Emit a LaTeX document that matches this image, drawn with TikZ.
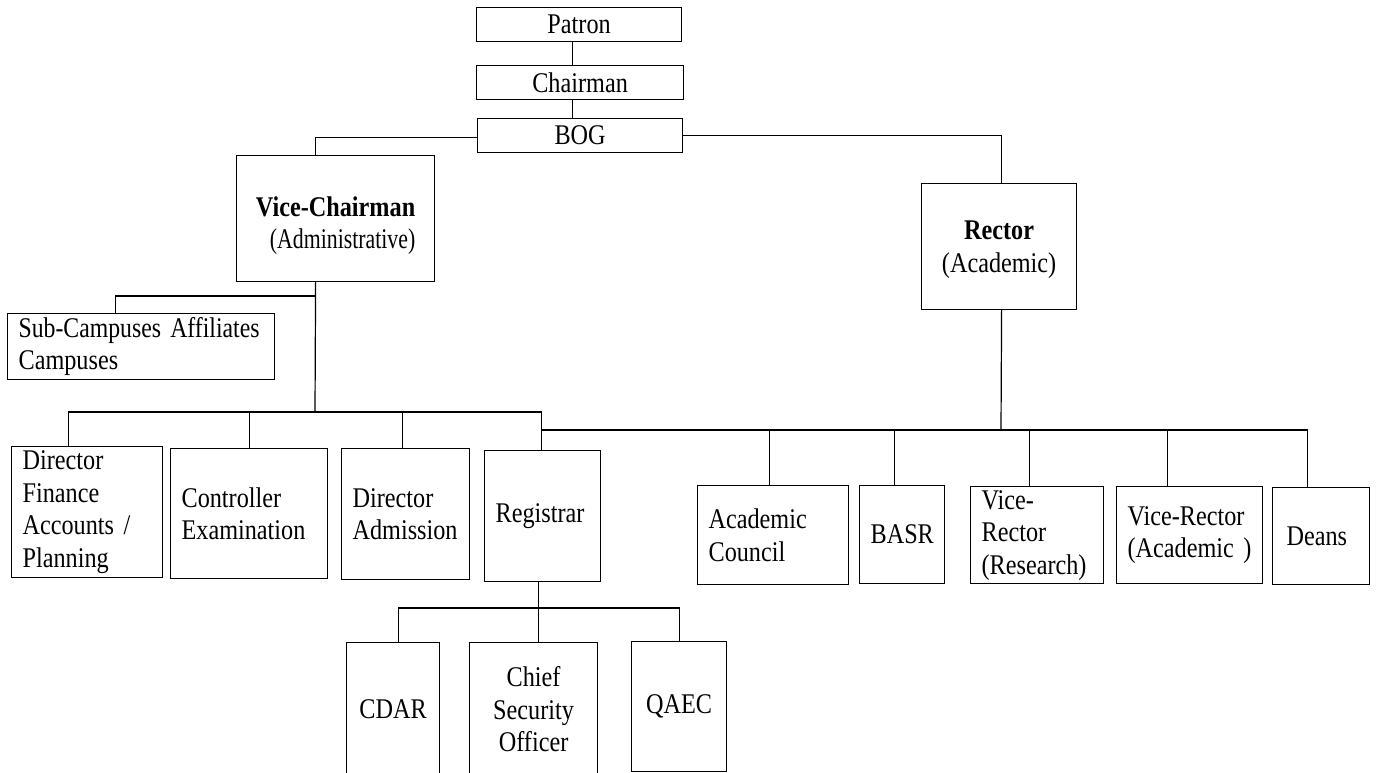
\documentclass[tikz,border=0pt]{standalone}
\usepackage{fontspec}
\setmainfont{Liberation Serif}[FakeStretch=0.85]
\begin{document}
\begin{tikzpicture}[x=1pt,y=-1pt,
  box/.style={draw, line width=1.2pt, rectangle, inner ysep=0pt, inner xsep=11pt, anchor=north west, font=\fontsize{28.5}{32.5}\selectfont},
  lbox/.style={box, align=left},
  cbox/.style={box, align=center},
  txt/.style={inner sep=0pt, align=center, font=\fontsize{28.5}{32.5}\selectfont},
  link/.style={line width=1.2pt}]
\useasboundingbox (0,0) rectangle (1382,772);
\fill[white] (0,0) rectangle (1382,772);
% top chain
\node[cbox, minimum width=205pt, minimum height=34pt] (patron) at (476,7) {Patron};
\node[cbox, minimum width=207pt, minimum height=34pt] (chair) at (476,65) {Chairman};
\node[cbox, minimum width=205pt, minimum height=34pt] (bog) at (477,118) {BOG};
\node[cbox, minimum width=198pt, minimum height=126pt] (vc) at (236,155) {};
\node[txt] (vctext) at ([yshift=-7pt]vc.center) {\textbf{Vice-Chairman}\\\hspace*{14pt}\scalebox{0.9}[1]{(Administrative)}};
\node[cbox, minimum width=155pt, minimum height=126pt] (rector) at (921,183) {};
\node[txt] (rectortext) at ([yshift=-3pt]rector.center) {\textbf{Rector}\\(Academic)};
% administrative side
\node[lbox, text width=245pt, minimum height=66pt] (sub) at (7,313) {\mbox{\scalebox{0.98}[1]{Sub-Campuses Affiliates}}\\Campuses};
\node[lbox, text width=129pt, minimum height=131pt] (dfin) at (11,446) {Director\\Finance\\Accounts /\\Planning};
\node[lbox, text width=135pt, minimum height=130pt] (ctrl) at (170,448) {Controller\\Examination};
\node[lbox, text width=106pt, minimum height=131pt] (dadm) at (341,448) {Director\\Admission};
\node[lbox, text width=94pt, minimum height=131pt] (reg) at (484,450) {Registrar};
% academic side
\node[lbox, text width=129pt, minimum height=99pt] (acc) at (697,485) {Academic\\Council};
\node[lbox, text width=63pt, minimum height=98pt] (basr) at (859,485) {BASR};
\node[lbox, text width=111pt, minimum height=97pt] (vrr) at (970,486) {Vice-\\Rector\\(Research)};
\node[lbox, text width=124pt, minimum height=97pt] (vra) at (1116,486) {Vice-Rector\\(Academic )};
\node[lbox, inner xsep=14pt, text width=69pt, minimum height=97pt] (deans) at (1272,487) {Deans};
% registrar children
\node[cbox, minimum width=93pt, minimum height=133pt] (cdar) at (346,642) {CDAR};
\node[cbox, minimum width=128pt, minimum height=133pt] (chief) at (469,642) {Chief\\Security\\Officer};
\node[cbox, minimum width=95pt, minimum height=130pt] (qaec) at (631,641) {QAEC};
% junctions
\coordinate (subj) at (315,296);
\coordinate (adminbus) at (315,412);
\coordinate (acadbus) at (1001,430);
\coordinate (regbus) at (538,608);
% connectors
\draw[link] ([xshift=-7pt]patron.south) -- ([xshift=-7pt]patron.south |- chair.north);
\draw[link] ([xshift=-8pt]chair.south) -- ([xshift=-8pt]chair.south |- bog.north);
\draw[link] ([yshift=-2pt]bog.west) -| ([xshift=-20pt]vc.north);
\draw[link] (bog.east) -| ([xshift=2.5pt]rector.north);
\draw[link] ([xshift=-20pt]vc.south) -- (adminbus);
\draw[link] (subj) -| ([xshift=-25.5pt]sub.north);
\draw[link] ([xshift=-18.5pt]dfin.north) |- (adminbus) -| ([xshift=-1pt]reg.north);
\draw[link] (ctrl.north) -- (ctrl.north |- adminbus);
\draw[link] ([xshift=-3pt]dadm.north) -- ([xshift=-3pt]dadm.north |- adminbus);
\draw[link] ([xshift=2.5pt]rector.south) -- (acadbus);
\draw[link] ([xshift=-1pt]reg.north |- acadbus) -- ([xshift=-13.5pt]deans.north |- acadbus) -- ([xshift=-13.5pt]deans.north);
\draw[link] ([xshift=-3.5pt]acc.north) -- ([xshift=-3.5pt]acc.north |- acadbus);
\draw[link] ([xshift=-7.5pt]basr.north) -- ([xshift=-7.5pt]basr.north |- acadbus);
\draw[link] ([xshift=-7.5pt]vrr.north) -- ([xshift=-7.5pt]vrr.north |- acadbus);
\draw[link] ([xshift=-22pt]vra.north) -- ([xshift=-22pt]vra.north |- acadbus);
\draw[link] ([xshift=-4pt]reg.south) -- ([xshift=-4pt]reg.south |- chief.north);
\draw[link] ([xshift=5.5pt]cdar.north) |- (regbus) -| (qaec.north);
\end{tikzpicture}
\end{document}
